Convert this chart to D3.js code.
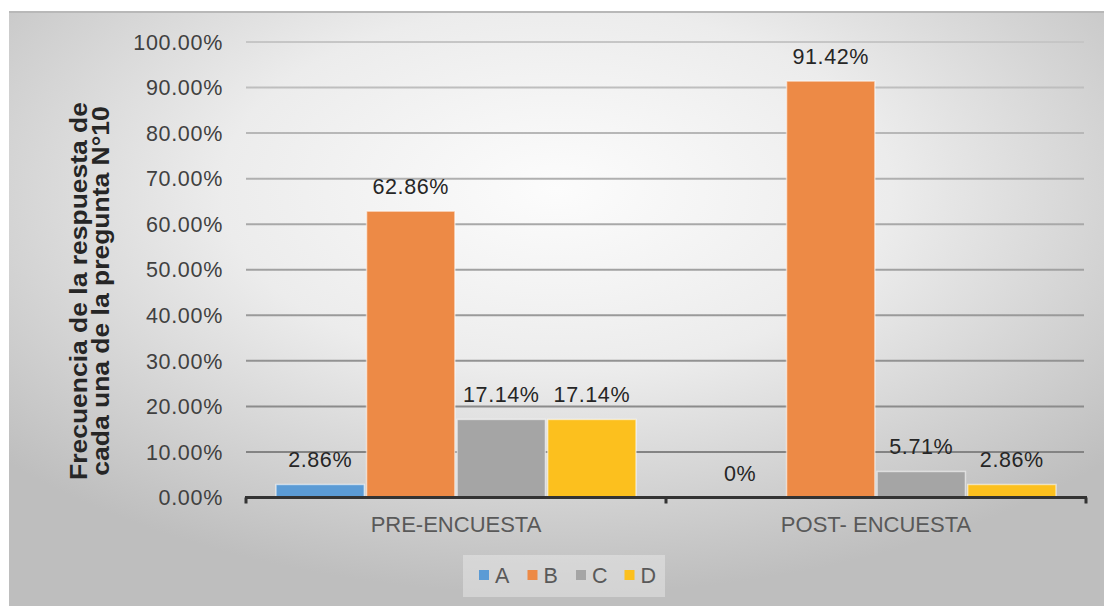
<!DOCTYPE html>
<html>
<head>
<meta charset="utf-8">
<script src="https://cdn.jsdelivr.net/npm/d3@7"></script>
<style>
  html, body { margin: 0; padding: 0; background: #fff; }
  svg { display: block; font-family: "Liberation Sans", Arial, sans-serif; }
</style>
</head>
<body>
<div id="chart"></div>
<script>
const categories = ['PRE-ENCUESTA', 'POST- ENCUESTA'];
const series = ['A', 'B', 'C', 'D'];
const preValues = [0.0286, 0.6286, 0.1714, 0.1714];
const postValues = [0, 0.9142, 0.0571, 0.0286];
const valueLabels = [
    ['2.86%', '62.86%', '17.14%', '17.14%'],
    ['0%', '91.42%', '5.71%', '2.86%']
];
const yTicks = [0, 0.1, 0.2, 0.3, 0.4, 0.5, 0.6, 0.7, 0.8, 0.9, 1.0];
const colors = ['#5b9bd5', '#ed8a46', '#a5a5a5', '#fcc01e'];

const width = 1104;
const height = 606;

const svg = d3.select('#chart')
    .append('svg')
    .attr('width', width)
    .attr('height', height);

const defs = svg.append('defs');
const bg = defs.append('radialGradient')
    .attr('id', 'bg')
    .attr('cx', '0.5').attr('cy', '0.3').attr('r', '0.68');
bg.append('stop').attr('offset', '0').attr('stop-color', '#fcfcfc');
bg.append('stop').attr('offset', '0.45').attr('stop-color', '#ececec');
bg.append('stop').attr('offset', '1').attr('stop-color', '#bebebe');

// lower grid lines look darker in the original
const gridGrad = defs.append('linearGradient')
    .attr('id', 'grid')
    .attr('gradientUnits', 'userSpaceOnUse')
    .attr('x1', 0).attr('y1', 40).attr('x2', 0).attr('y2', 500);
gridGrad.append('stop').attr('offset', '0').attr('stop-color', '#c6c6c6');
gridGrad.append('stop').attr('offset', '1').attr('stop-color', '#7c7c7c');

svg.append('rect')
    .attr('x', 9).attr('y', 11)
    .attr('width', width - 9).attr('height', height - 11)
    .attr('fill', 'url(#bg)');
svg.append('line')
    .attr('x1', 9).attr('x2', width).attr('y1', 12).attr('y2', 12)
    .attr('stroke', '#b8b8b8').attr('stroke-width', 2);

const plot = { left: 246, right: 1086, top: 42, bottom: 497.5 };

const y = d3.scaleLinear()
    .domain([0, 1])
    .range([plot.bottom, plot.top]);

const x0 = d3.scaleBand()
    .domain(categories)
    .range([plot.left, plot.right]);

const x1 = d3.scaleBand()
    .domain(series)
    .range([30, x0.bandwidth() - 30])
    .paddingInner(0.025);

// grid
svg.append('g')
    .selectAll('line')
    .data(yTicks.filter(d => d > 0))
    .enter()
    .append('line')
    .attr('x1', plot.left)
    .attr('x2', plot.right - 2)
    .attr('y1', d => y(d))
    .attr('y2', d => y(d))
    .attr('stroke', 'url(#grid)')
    .attr('stroke-width', 2);

// y tick labels
svg.append('g')
    .selectAll('text')
    .data(yTicks)
    .enter()
    .append('text')
    .attr('x', 223)
    .attr('y', d => y(d))
    .attr('dy', '0.36em')
    .attr('text-anchor', 'end')
    .attr('font-size', '21.5px')
    .attr('letter-spacing', '0.7px')
    .attr('fill', '#404040')
    .text(d => d3.format('.2f')(d * 100) + '%');

// bars
const rows = categories.map((c, i) => ({
    category: c,
    values: i === 0 ? preValues : postValues,
    labels: valueLabels[i]
}));

const groups = svg.append('g')
    .selectAll('g')
    .data(rows)
    .enter()
    .append('g')
    .attr('transform', d => `translate(${x0(d.category)},0)`);

groups.selectAll('rect')
    .data(d => d.values.map((v, j) => ({ key: series[j], value: v })))
    .enter()
    .append('rect')
    .filter(d => d.value > 0)
    .attr('x', d => x1(d.key))
    .attr('y', d => y(d.value))
    .attr('width', x1.bandwidth())
    .attr('height', d => y(0) - y(d.value))
    .attr('fill', d => colors[series.indexOf(d.key)])
    .attr('stroke', '#ffffff')
    .attr('stroke-opacity', 0.55)
    .attr('stroke-width', 1.5);

groups.selectAll('text')
    .data(d => d.values.map((v, j) => ({ key: series[j], value: v, label: d.labels[j] })))
    .enter()
    .append('text')
    .attr('x', d => x1(d.key) + x1.bandwidth() / 2)
    .attr('y', d => y(d.value) - 17)
    .attr('text-anchor', 'middle')
    .attr('font-size', '21.5px')
    .attr('letter-spacing', '0.6px')
    .attr('fill', '#262626')
    .text(d => d.label);

// x axis line with ticks
const axis = svg.append('g')
    .attr('transform', `translate(0,${plot.bottom})`);
axis.append('line')
    .attr('x1', plot.left - 1).attr('x2', plot.right + 1)
    .attr('y1', 0).attr('y2', 0)
    .attr('stroke', '#333').attr('stroke-width', 3);
axis.selectAll('.edge')
    .data([plot.left, (plot.left + plot.right) / 2, plot.right])
    .enter()
    .append('line')
    .attr('x1', d => d).attr('x2', d => d)
    .attr('y1', 0).attr('y2', 6)
    .attr('stroke', '#333').attr('stroke-width', 3);

svg.append('g')
    .selectAll('text')
    .data(categories)
    .enter()
    .append('text')
    .attr('x', d => x0(d) + x0.bandwidth() / 2)
    .attr('y', 532)
    .attr('text-anchor', 'middle')
    .attr('font-size', '22px')
    .attr('fill', '#595959')
    .text(d => d);

// y axis title, stretched a bit like the original
const title = svg.append('text')
    .attr('transform', 'translate(87,291) rotate(-90)')
    .attr('text-anchor', 'middle')
    .attr('font-size', '24.5px')
    .attr('font-weight', 'bold')
    .attr('fill', '#262626');
const line1 = title.append('tspan').attr('x', 0).attr('y', 0)
    .text('Frecuencia de la respuesta de');
const line2 = title.append('tspan').attr('x', 0).attr('y', 22)
    .text('cada una de la pregunta N°10');
const k = 378 / line1.node().getComputedTextLength();
line1.attr('textLength', 378).attr('lengthAdjust', 'spacingAndGlyphs');
line2.attr('textLength', line2.node().getComputedTextLength() * k)
    .attr('lengthAdjust', 'spacingAndGlyphs');

// legend
const legend = svg.append('g');
legend.append('rect')
    .attr('x', 463).attr('y', 555)
    .attr('width', 202).attr('height', 42)
    .attr('fill', '#eeeeee').attr('opacity', 0.45);

const item = legend.selectAll('g')
    .data(series)
    .enter()
    .append('g')
    .attr('transform', (d, i) => `translate(${479 + i * 48.5},0)`);
item.append('rect')
    .attr('y', 570)
    .attr('width', 10).attr('height', 10)
    .attr('fill', (d, i) => colors[i]);
item.append('text')
    .attr('x', 16)
    .attr('y', 583)
    .attr('font-size', '21.5px')
    .attr('fill', '#595959')
    .text(d => d);
</script>
</body>
</html>
